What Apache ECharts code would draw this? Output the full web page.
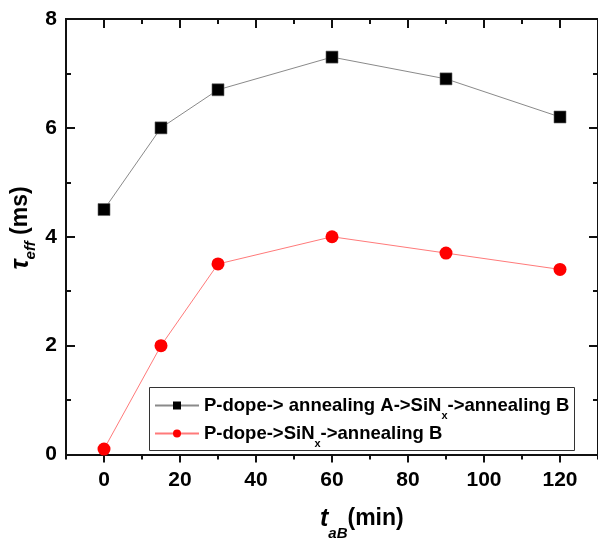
<!DOCTYPE html>
<html>
<head>
<meta charset="utf-8">
<script src="https://cdn.jsdelivr.net/npm/echarts@6/dist/echarts.min.js"></script>
<style>
  html, body { margin: 0; padding: 0; background: #fff; }
  #chart { width: 598px; height: 541px; }
</style>
</head>
<body>
<div id="chart"></div>
<script>
// Annealing time B (min) and effective lifetime (ms)
const annealTimes = [0, 15, 30, 60, 90, 120];
const tauWithAnnealA = [4.5, 6.0, 6.7, 7.3, 6.9, 6.2];
const tauWithoutAnnealA = [0.1, 2.0, 3.5, 4.0, 3.7, 3.4];
const seriesNames = [
  'P-dope-> annealing A->SiNx->annealing B',
  'P-dope->SiNx->annealing B'
];
const xMajorTicks = [0, 20, 40, 60, 80, 100, 120];
const xMinorTicks = [-10, 10, 30, 50, 70, 90, 110, 130];

const FONT = '"Liberation Sans", Arial, sans-serif';
const AXIS_COLOR = '#111';

const chart = echarts.init(document.getElementById('chart'), null, { renderer: 'canvas' });

function xAxisDef(position, ticks, tickLen, inside, showLabels) {
  return {
    type: 'value',
    position: position,
    min: -10,
    max: 130,
    gridIndex: 0,
    axisLine: { show: true, onZero: false, lineStyle: { color: AXIS_COLOR, width: 2 } },
    axisTick: {
      show: true, inside: inside, length: tickLen, customValues: ticks,
      lineStyle: { color: AXIS_COLOR, width: 2 }
    },
    axisLabel: {
      show: showLabels, customValues: xMajorTicks, margin: 15,
      color: '#000', fontFamily: FONT, fontWeight: 'bold', fontSize: 21
    },
    splitLine: { show: false }
  };
}

function yAxisDef(position, showLabels) {
  return {
    type: 'value',
    position: position,
    min: 0,
    max: 8,
    interval: 2,
    axisLine: { show: true, onZero: false, lineStyle: { color: AXIS_COLOR, width: 2 } },
    axisTick: { show: true, inside: true, length: 9, lineStyle: { color: AXIS_COLOR, width: 2 } },
    minorTick: { show: true, splitNumber: 2, length: 5, lineStyle: { color: AXIS_COLOR, width: 2 } },
    axisLabel: {
      show: showLabels, margin: 9,
      color: '#000', fontFamily: FONT, fontWeight: 'bold', fontSize: 21
    },
    splitLine: { show: false }
  };
}

function legendLabel(name) {
  const parts = name.split('SiNx');
  return '{n|' + parts[0] + 'SiN}{s|x}{n|' + parts[1] + '}';
}

const option = {
  backgroundColor: '#fff',
  animation: false,
  grid: { left: 66, top: 19, right: -5, bottom: 86.5, containLabel: false },
  xAxis: [
    xAxisDef('bottom', xMajorTicks, 8, false, true),
    xAxisDef('bottom', xMinorTicks, 5, false, false),
    xAxisDef('top', xMajorTicks, 9, true, false),
    xAxisDef('top', xMinorTicks, 5, true, false)
  ],
  yAxis: [
    yAxisDef('left', true),
    yAxisDef('right', false)
  ],
  legend: {
    orient: 'vertical',
    left: 154,
    top: 393,
    padding: 0,
    itemGap: 0,
    itemWidth: 44,
    itemHeight: 10,
    z: 10,
    data: seriesNames,
    formatter: legendLabel,
    itemStyle: { borderWidth: 0 },
    textStyle: {
      color: '#000',
      rich: {
        n: { fontFamily: FONT, fontWeight: 'bold', fontSize: 18.5, lineHeight: 25, verticalAlign: 'middle' },
        s: { fontFamily: FONT, fontWeight: 'bold', fontSize: 11, lineHeight: 8, verticalAlign: 'top', padding: [17, 0, 0, 0] }
      }
    }
  },
  graphic: [
    {
      type: 'rect', z: 9,
      shape: { x: 149.5, y: 387.5, width: 425, height: 63 },
      style: { fill: '#fff', stroke: '#333', lineWidth: 1 }
    },
    {
      type: 'text', z: 10,
      x: 320, y: 520,
      style: {
        text: '{t|t}{s|aB}{n|(min)}',
        align: 'left', verticalAlign: 'middle',
        fill: '#000',
        rich: {
          t: { fontFamily: FONT, fontWeight: 'bold', fontStyle: 'italic', fontSize: 25, lineHeight: 26, verticalAlign: 'top' },
          s: { fontFamily: FONT, fontWeight: 'bold', fontStyle: 'italic', fontSize: 15, lineHeight: 12, verticalAlign: 'top', padding: [19, 0, 0, 0] },
          n: { fontFamily: FONT, fontWeight: 'bold', fontSize: 23, lineHeight: 26, verticalAlign: 'top' }
        }
      }
    },
    {
      type: 'text', z: 10,
      x: 22, y: 228,
      rotation: Math.PI / 2,
      style: {
        text: '{t|τ}{s|eff}{n| (ms)}',
        align: 'center', verticalAlign: 'middle',
        fill: '#000',
        rich: {
          t: { fontFamily: FONT, fontWeight: 'bold', fontStyle: 'italic', fontSize: 25, lineHeight: 26, verticalAlign: 'top' },
          s: { fontFamily: FONT, fontWeight: 'bold', fontStyle: 'italic', fontSize: 15, lineHeight: 12, verticalAlign: 'top', padding: [14, 0, 0, 0] },
          n: { fontFamily: FONT, fontWeight: 'bold', fontSize: 23, lineHeight: 26, verticalAlign: 'top' }
        }
      }
    }
  ],
  series: [
    {
      name: seriesNames[0],
      type: 'line',
      xAxisIndex: 0, yAxisIndex: 0,
      data: annealTimes.map((t, i) => [t, tauWithAnnealA[i]]),
      symbol: 'rect',
      symbolSize: 12,
      lineStyle: { color: '#8a8a8a', width: 1 },
      itemStyle: { color: '#000', borderColor: '#666', borderWidth: 0.6 },
      z: 3
    },
    {
      name: seriesNames[1],
      type: 'line',
      xAxisIndex: 0, yAxisIndex: 0,
      data: annealTimes.map((t, i) => [t, tauWithoutAnnealA[i]]),
      symbol: 'circle',
      symbolSize: 13,
      lineStyle: { color: '#ff7a7a', width: 1 },
      itemStyle: { color: '#ff0000', borderWidth: 0 },
      z: 3
    }
  ]
};

chart.setOption(option);
</script>
</body>
</html>
